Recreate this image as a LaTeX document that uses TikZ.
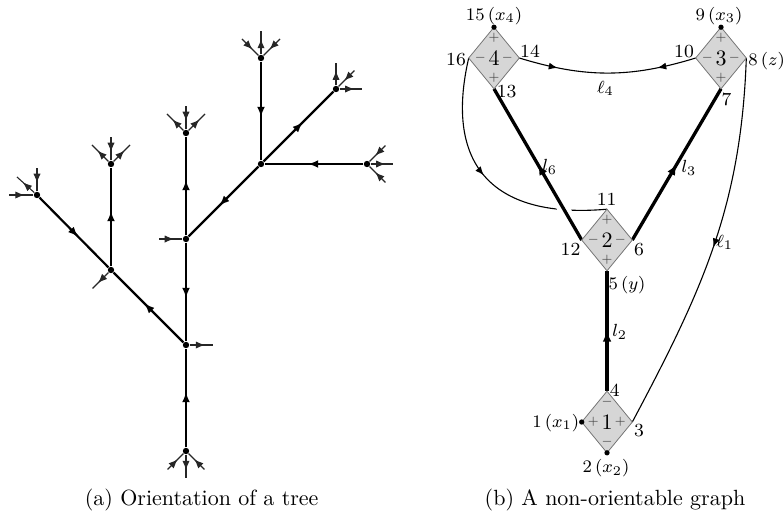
\documentclass[tikz,border=0pt]{standalone}
\usetikzlibrary{arrows.meta,decorations.markings,shapes.geometric}
\pgfdeclarelayer{bg}
\pgfsetlayers{bg,main}
\newcommand\labfont{\fontsize{8.4}{10}\selectfont}
\tikzset{
  dot/.style={circle, fill=black, inner sep=0pt, minimum size=2.9pt},
  gdot/.style={circle, fill=black, inner sep=0pt, minimum size=2.4pt},
  tedge/.style={line width=1pt, postaction={decorate},
    decoration={markings, mark=at position 0.56 with {\arrow{Latex[length=4.6pt,width=3.6pt]}}}},
  ostub/.style={line width=0.5pt, black!85, postaction={decorate},
    decoration={markings, mark=at position 0.66 with {\arrow{Latex[length=4.2pt,width=3.3pt]}}}},
  istub/.style={line width=0.5pt, black!85, postaction={decorate},
    decoration={markings, mark=at position 0.36 with {\arrowreversed{Latex[length=4.2pt,width=3.3pt]}}}},
  diam/.style={diamond, draw=black!55, line width=0.35pt, fill=black!16, inner sep=0pt,
    outer sep=0pt, minimum width=23pt, minimum height=28pt, font=\normalsize},
  sgn/.style={font=\tiny, text=black!75, inner sep=0pt},
  lab/.style={font=\labfont, inner sep=0pt, anchor=base},
  thk/.style={line width=1.5pt, preaction={draw=white, line width=5.5pt}, postaction={decorate},
    decoration={markings, mark=at position 0.5 with {\arrow{Latex[length=4.8pt,width=4pt]}}}},
  thn/.style={line width=0.5pt, postaction={decorate},
    decoration={markings, mark=at position #1 with {\arrow{Latex[length=4pt,width=3.2pt]}}}},
  thnmeet/.style={line width=0.5pt, postaction={decorate},
    decoration={markings, mark=at position 0.22 with {\arrow{Latex[length=4pt,width=3.2pt]}},
      mark=at position 0.78 with {\arrowreversed{Latex[length=4pt,width=3.2pt]}}}}
}
\newcommand\mydiam[6]{%
  \node[diam] (#1) at (#2,#3) {#4};
  \node[sgn] (#1t) at ([yshift=9.3pt]#1.center) {$#5$};
  \node[sgn] (#1b) at ([yshift=-9pt]#1.center) {$#5$};
  \node[sgn] (#1l) at ([xshift=-6.2pt]#1.center) {$#6$};
  \node[sgn] (#1r) at ([xshift=6pt]#1.center) {$#6$};
}
\begin{document}
\begin{tikzpicture}[x=0.4545pt, y=0.4545pt]
\useasboundingbox (0,0) rectangle (783,-517);
% ---------- (a) tree ----------
\node[dot] (A) at (261,-58) {};
\node[dot] (B) at (261,-164) {};
\node[dot] (C) at (336,-89) {};
\node[dot] (D) at (367,-164) {};
\node[dot] (E) at (186,-133) {};
\node[dot] (F) at (186,-239) {};
\node[dot] (G) at (111,-164) {};
\node[dot] (H) at (37,-195) {};
\node[dot] (I) at (111,-270) {};
\node[dot] (J) at (186,-345) {};
\node[dot] (K) at (186,-451) {};
\draw[tedge] (A) -- (B);
\draw[tedge] (B) -- (C);
\draw[tedge] (D) -- (B);
\draw[tedge] (B) -- (F);
\draw[tedge] (F) -- (E);
\draw[tedge] (F) -- (J);
\draw[tedge] (J) -- (I);
\draw[tedge] (I) -- (G);
\draw[tedge] (H) -- (I);
\draw[tedge] (K) -- (J);
% stubs
\draw[ostub] (A) -- +(90:27);
\draw[istub] (A) -- +(135:27);
\draw[istub] (A) -- +(45:27);
\draw[istub] (E) -- +(90:27);
\draw[ostub] (E) -- +(135:27);
\draw[ostub] (E) -- +(45:27);
\draw[istub] (G) -- +(90:27);
\draw[ostub] (G) -- +(135:27);
\draw[ostub] (G) -- +(45:27);
\draw[istub] (H) -- +(180:28);
\draw[istub] (H) -- +(90:27);
\draw[ostub] (H) -- +(138:27);
\draw[ostub] (C) -- +(90:26);
\draw[istub] (C) -- +(45:26);
\draw[ostub] (C) -- +(0:26);
\draw[istub] (D) -- +(45:26);
\draw[ostub] (D) -- +(0:26);
\draw[istub] (D) -- +(-45:26);
\draw[istub] (F) -- +(180:27);
\draw[ostub] (I) -- +(-135:26);
\draw[ostub] (J) -- +(0:27);
\draw[ostub] (K) -- +(-90:27);
\draw[istub] (K) -- +(-135:26);
\draw[istub] (K) -- +(-45:26);
\node[anchor=base] (capa) at (201.7,-505) {(a) Orientation of a tree};
% ---------- (b) graph ----------
\mydiam{d4}{494}{-58}{4}{+}{-}
\mydiam{d3}{721}{-58}{3}{+}{-}
\mydiam{d2}{607}{-240}{2}{+}{-}
\mydiam{d1}{607}{-422}{1}{-}{+}
\begin{pgfonlayer}{bg}
\draw[thnmeet] (d4.east) to[bend right=17] (d3.west);
\draw[thn=0.5] (d3.east) to[out=-92,in=62] (d1.east);
\draw[thn=0.48] (d4.west) to[out=-103,in=185,looseness=1.4] (d2.north);
\draw[thk] (d2.west) -- (d4.south);
\draw[thk] (d2.east) -- (d3.south);
\draw[thk] (d1.north) -- (d2.south);
\end{pgfonlayer}
\node[gdot] (p15) at (d4.north) {};
\node[gdot] (p9) at (d3.north) {};
\node[gdot] (p1) at (d1.west) {};
\node[gdot] (p2) at (d1.south) {};
\node[lab] (l15) at (494,-20) {$15\,(x_4)$};
\node[lab] (l16) at (456,-65) {16};
\node[lab] (l14) at (530,-57.3) {14};
\node[lab] (l13) at (506.7,-97) {13};
\node[lab] (l9) at (719,-20) {$9\,(x_3)$};
\node[lab] (l10) at (684,-57.3) {10};
\node[lab, anchor=base west] (l8) at (748,-65) {$8\,(z)$};
\node[lab] (l7) at (726.5,-105) {7};
\node[lab] (l11) at (606.7,-205) {11};
\node[lab] (l12) at (570.5,-255) {12};
\node[lab] (l6) at (639,-255) {6};
\node[lab] (l5) at (627,-289) {$5\,(y)$};
\node[lab] (l4) at (614.7,-396.7) {4};
\node[lab] (l3) at (639,-436.7) {3};
\node[lab] (l1) at (555.8,-427.3) {$1\,(x_1)$};
\node[lab] (l2) at (606,-472.7) {$2\,(x_2)$};
\node[lab] (e4) at (605.5,-93) {$\ell_4$};
\node[lab] (e6) at (549.7,-171.7) {$l_6$};
\node[lab] (e3) at (689,-172.7) {$l_3$};
\node[lab] (e2) at (619.7,-336.7) {$l_2$};
\node[lab] (e1) at (724.7,-247.3) {$\ell_1$};
\node[anchor=base] (capb) at (615,-505) {(b) A non-orientable graph};
\end{tikzpicture}
\end{document}
